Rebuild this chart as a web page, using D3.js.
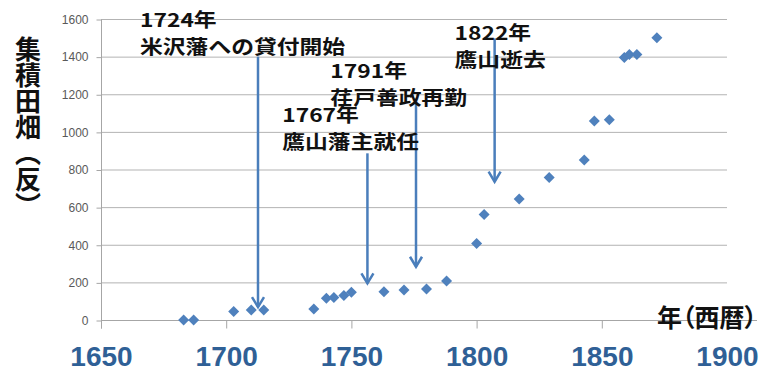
<!DOCTYPE html>
<html>
<head>
<meta charset="utf-8">
<script src="https://cdn.jsdelivr.net/npm/d3@7"></script>
<style>
  body { margin: 0; background: #fff; }
  text { font-family: "Noto Sans CJK JP", "Noto Sans", sans-serif; }
</style>
</head>
<body>
<div id="chart"></div>
<script>
// accumulated fields (tan) by year
const years = [1683, 1687, 1703, 1710, 1715, 1735, 1740, 1743, 1747, 1750, 1763, 1771, 1780, 1788,
               1800, 1803, 1817, 1829, 1843, 1847, 1853, 1859, 1861, 1864, 1872];
const areas = [0, 0, 45, 53, 53, 58, 115, 120, 130, 147, 150, 160, 165, 207,
               407, 561, 643, 757, 850, 1058, 1065, 1395, 1411, 1411, 1500];

const yTicks = [0, 200, 400, 600, 800, 1000, 1200, 1400, 1600];
const xTicks = [1650, 1700, 1750, 1800, 1850, 1900];

// annotations (in data units: year / tan)
const noteYears = ["1724年", "1767年", "1791年", "1822年"];
const noteTexts = ["米沢藩への貸付開始", "鷹山藩主就任", "荏戸善政再勤", "鷹山逝去"];
const noteX = [1665.6, 1722.4, 1741.6, 1791.2];
const noteY = [1559, 1054, 1285, 1488];
const arrowX = [1712.7, 1756.4, 1775.8, 1807.2];
const arrowFrom = [1400, 886, 1170, 1497];
const arrowTo = [69, 195, 283, 735];

const width = 761, height = 370;

const svg = d3.select("#chart")
    .append("svg")
    .attr("width", width)
    .attr("height", height);

const x = d3.scaleLinear().domain([1650, 1900]).range([101, 727]);
const y = d3.scaleLinear().domain([0, 1600]).range([320, 19]);

// gridlines
svg.append("g")
    .selectAll("line")
    .data(yTicks.filter(d => d > 0))
    .enter().append("line")
    .attr("x1", x(1650)).attr("x2", x(1900))
    .attr("y1", d => y(d) + 0.5).attr("y2", d => y(d) + 0.5)
    .attr("stroke", "#b3b3b3");

// y axis
const yAxis = svg.append("g")
    .attr("transform", `translate(${x(1650) + 0.5},0.5)`)
    .call(d3.axisLeft(y).tickValues(yTicks).tickSize(5).tickPadding(8).tickFormat(d3.format("d")));
yAxis.select(".domain").attr("d", `M0,${y(1600)}V${y(0) + 8}`);
yAxis.selectAll("line, path").attr("stroke", "#a6a6a6");
yAxis.selectAll("text")
    .attr("fill", "#595959")
    .style("font-family", "'Liberation Sans', Arial, sans-serif")
    .style("font-size", "12px");

// x axis
const xAxis = svg.append("g")
    .attr("transform", `translate(0,${y(0) + 0.5})`)
    .call(d3.axisBottom(x).tickValues(xTicks).tickSize(8).tickFormat(d3.format("d")).tickPadding(18));
xAxis.select(".domain").attr("d", `M${x(1650)},0H${x(1900) + 30}`);
xAxis.selectAll("line, path").attr("stroke", "#a6a6a6");
xAxis.selectAll("text")
    .attr("fill", "#2f6096")
    .style("font-family", "'Liberation Sans', Arial, sans-serif")
    .style("font-weight", "bold")
    .style("font-size", "28px");

// data points
svg.append("g")
    .selectAll("path")
    .data(years.map((d, i) => [d, areas[i]]))
    .enter().append("path")
    .attr("transform", d => `translate(${x(d[0])},${y(d[1])})`)
    .attr("d", "M0,-5.5L5.5,0L0,5.5L-5.5,0Z")
    .attr("fill", "#4f81bd");

// arrows
const arrows = svg.append("g")
    .attr("stroke", "#4a7ebb")
    .attr("stroke-width", 2.5)
    .attr("fill", "none");
arrowX.forEach((ax, i) => {
    const px = x(ax), top = y(arrowFrom[i]), tip = y(arrowTo[i]);
    arrows.append("line")
        .attr("x1", px).attr("x2", px)
        .attr("y1", top).attr("y2", tip);
    arrows.append("path")
        .attr("d", `M${px - 6},${tip - 10}L${px},${tip}L${px + 6},${tip - 10}`);
});

// annotation labels
noteYears.forEach((t, i) => {
    const g = svg.append("g")
        .attr("transform", `translate(${x(noteX[i])},${y(noteY[i])}) scale(1.2,1)`)
        .attr("fill", "#111")
        .style("font-size", "19px")
        .style("font-weight", "bold");
    g.append("text").text(t);
    g.append("text").attr("y", 27).text(noteTexts[i]);
});

// axis titles
svg.append("text")
    .attr("x", 28).attr("y", 36)
    .style("writing-mode", "vertical-rl")
    .style("font-size", "26px")
    .style("font-weight", "bold")
    .attr("fill", "#111")
    .text("集積田畑︵反︶");

svg.append("text")
    .attr("x", 757).attr("y", 327)
    .attr("text-anchor", "end")
    .style("font-size", "25px")
    .style("font-weight", "bold")
    .style("font-feature-settings", "'palt'")
    .attr("fill", "#111")
    .text("年（西暦）");
</script>
</body>
</html>
